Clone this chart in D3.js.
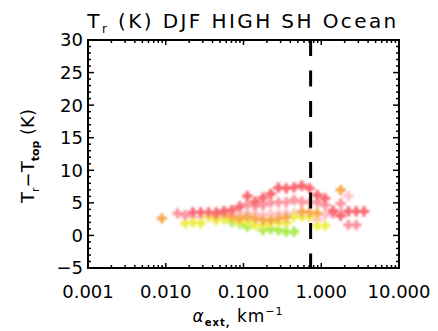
<!DOCTYPE html>
<html>
<head>
<meta charset="utf-8">
<script src="https://cdn.jsdelivr.net/npm/d3@7/dist/d3.min.js"></script>
<style>
  html, body { margin: 0; padding: 0; background: #fff; }
  svg { display: block; }
  text { font-family: "DejaVu Sans", sans-serif; fill: #000; }
</style>
</head>
<body>
<svg id="chart" width="438" height="331"></svg>
<script>
// log10 extinction bin centres
const bins = [-2.05, -1.95, -1.85, -1.75, -1.65, -1.55, -1.45, -1.35, -1.25, -1.15, -1.05,
  -0.95, -0.85, -0.75, -0.65, -0.55, -0.45, -0.35, -0.25, -0.15, -0.05, 0.05, 0.15, 0.25, 0.35, 0.45, 0.55];

// Tr - Ttop (K) per bin, one array per group (null = no sample)
const redVals = [null, null, null, null, 3.54, 3.54, 3.54, 3.54, 3.74, 3.90, 4.41,
  6.05, 5.18, 5.79, 6.40, 7.33, 7.23, 7.38, 7.63, 7.23, 6.20, 5.69, 3.80, 3.03, 3.69, 3.69, 3.69];
const pinkVals = [null, null, 3.39, 3.13, null, null, null, null, null, null, null,
  4.77, 4.51, 4.67, 5.02, 5.08, 5.08, 5.43, 5.18, 5.08, 5.08, 4.67, 3.39, 4.92, 1.60, 1.60, null];
const lightPinkVals = [null, null, null, null, 2.87, 2.87, 2.97, 2.97, 2.97, 3.39, 3.44,
  3.39, 3.39, 3.10, 3.30, 3.30, 3.39, 3.39, null, null, 2.36, 3.13, null, 3.59, 6.05, null, null];
const orangeVals = [2.62, null, null, null, null, null, null, 3.10, 3.40, 2.87, 2.62,
  2.87, 2.62, 2.36, 2.36, 2.62, 2.77, null, 3.64, 3.54, 3.39, null, null, 6.97, null, null, null];
const yellowVals = [null, null, null, 1.85, 2.00, 1.85, 2.87, 2.36, 2.46, 2.62, 2.10,
  2.10, 1.60, 1.60, 1.95, 1.95, 1.95, 2.87, 2.87, 2.87, 1.50, 1.50, null, null, null, null, null];
const greenVals = [null, null, null, null, null, null, null, null, null, 2.10, 1.85,
  1.34, null, 0.83, 1.00, 0.83, 0.57, 0.57, null, null, null, null, null, null, null, null, null];

const groups = [
  { name: "lightpink", values: lightPinkVals, color: "#ffc4cc" },
  { name: "green", values: greenVals, color: "#aaea50" },
  { name: "yellow", values: yellowVals, color: "#eeee48" },
  { name: "orange", values: orangeVals, color: "#f7a84e" },
  { name: "pink", values: pinkVals, color: "#fc94a0" },
  { name: "red", values: redVals, color: "#f86872" }
];

const xTickValues = [0.001, 0.01, 0.1, 1, 10];
const xTickLabels = ["0.001", "0.010", "0.100", "1.000", "10.000"];
const yTickValues = [-5, 0, 5, 10, 15, 20, 25, 30];
const markerX = 0.73;

const svg = d3.select("#chart");
const m = { left: 88, right: 399, top: 40, bottom: 268 };

const x = d3.scaleLog().domain([0.001, 10]).range([m.left, m.right]);
const y = d3.scaleLinear().domain([-5, 30]).range([m.bottom, m.top]);

const defs = svg.append("defs");
defs.append("filter").attr("id", "soft")
  .attr("x", "-50%").attr("y", "-50%").attr("width", "200%").attr("height", "200%")
  .append("feGaussianBlur").attr("stdDeviation", 0.9);

// data markers: soft plus-shaped blobs
const cross = d3.symbol().type(d3.symbolCross).size(58);
const markG = svg.append("g").attr("filter", "url(#soft)");
groups.forEach(g => {
  const pts = bins.map((b, i) => ({ xv: Math.pow(10, b), yv: g.values[i] }))
    .filter(d => d.yv !== null);
  const sel = markG.selectAll(null).data(pts).enter().append("g")
    .attr("transform", d => `translate(${x(d.xv)},${y(d.yv)})`)
    .attr("fill", g.color);
  sel.append("path").attr("d", cross);
  sel.append("circle").attr("r", 2.6);
});

// vertical dashed reference line
svg.append("line")
  .attr("x1", x(markerX)).attr("x2", x(markerX))
  .attr("y1", y(30)).attr("y2", y(-5))
  .attr("stroke", "#000").attr("stroke-width", 3)
  .attr("stroke-dasharray", "16,14.5");

// frame
svg.append("rect")
  .attr("x", m.left).attr("y", m.top)
  .attr("width", m.right - m.left).attr("height", m.bottom - m.top)
  .attr("fill", "none").attr("stroke", "#000").attr("stroke-width", 2);

// x ticks (major + minor) on bottom and top
const xMinor = [];
for (let e = -3; e < 1; e++) for (let k = 2; k <= 9; k++) xMinor.push(k * Math.pow(10, e));
const tickG = svg.append("g").attr("stroke", "#000").attr("stroke-width", 1.5);
xMinor.forEach(v => {
  tickG.append("line").attr("x1", x(v)).attr("x2", x(v)).attr("y1", m.bottom).attr("y2", m.bottom - 3);
  tickG.append("line").attr("x1", x(v)).attr("x2", x(v)).attr("y1", m.top).attr("y2", m.top + 3);
});
xTickValues.forEach(v => {
  tickG.append("line").attr("x1", x(v)).attr("x2", x(v)).attr("y1", m.bottom).attr("y2", m.bottom - 5);
  tickG.append("line").attr("x1", x(v)).attr("x2", x(v)).attr("y1", m.top).attr("y2", m.top + 5);
});
// y ticks
for (let v = -5; v <= 30; v++) {
  const len = v % 5 === 0 ? 6 : 3;
  tickG.append("line").attr("x1", m.left).attr("x2", m.left + len).attr("y1", y(v)).attr("y2", y(v));
  tickG.append("line").attr("x1", m.right).attr("x2", m.right - len).attr("y1", y(v)).attr("y2", y(v));
}

// tick labels
svg.append("g").selectAll("text").data(xTickValues).enter().append("text")
  .attr("x", d => x(d)).attr("y", 298)
  .attr("text-anchor", "middle").attr("font-size", 18)
  .text((d, i) => xTickLabels[i]);
svg.append("g").selectAll("text").data(yTickValues).enter().append("text")
  .attr("x", m.left - 5).attr("y", d => y(d)).attr("dy", "0.36em")
  .attr("text-anchor", "end").attr("font-size", 18)
  .text(d => d < 0 ? "\u2212" + Math.abs(d) : d);

// title
const title = svg.append("text").attr("x", 243).attr("y", 28)
  .attr("text-anchor", "middle").attr("font-size", 20).attr("letter-spacing", 2.4);
title.append("tspan").text("T");
title.append("tspan").attr("dy", 5).attr("font-size", 12).text("r");
title.append("tspan").attr("dy", -5).text(" (K) DJF HIGH SH Ocean");

// x axis title
const xt = svg.append("text").attr("x", 238).attr("y", 322)
  .attr("text-anchor", "middle").attr("font-size", 17).attr("letter-spacing", 1);
xt.append("tspan").attr("font-style", "italic").text("\u03b1");
xt.append("tspan").attr("dy", 4).attr("font-size", 10).attr("font-weight", "bold").text("ext,");
xt.append("tspan").attr("dy", -4).text(" km");
xt.append("tspan").attr("dy", -7).attr("font-size", 11).text("\u22121");

// y axis title
const yt = svg.append("text")
  .attr("transform", "translate(34,156) rotate(-90)")
  .attr("text-anchor", "middle").attr("font-size", 18);
yt.append("tspan").text("T");
yt.append("tspan").attr("dy", 5).attr("font-size", 11).text("r");
yt.append("tspan").attr("dy", -5).text("\u2212T");
yt.append("tspan").attr("dy", 5).attr("font-size", 11).attr("font-weight", "bold").text("top");
yt.append("tspan").attr("dy", -5).text(" (K)");
</script>
</body>
</html>
